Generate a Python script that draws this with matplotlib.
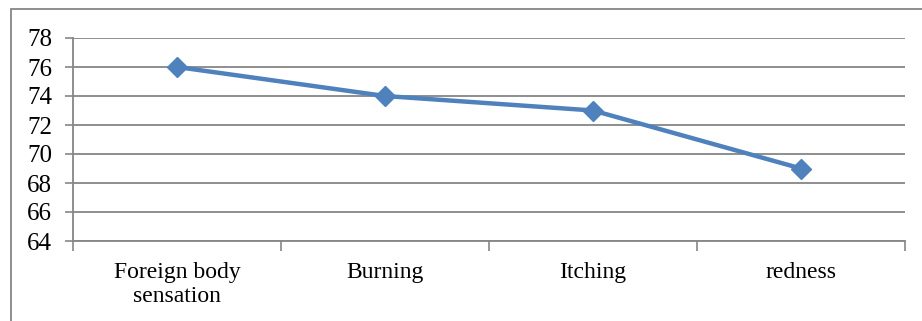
import matplotlib
matplotlib.use("Agg")
import matplotlib.pyplot as plt
from matplotlib.patches import Rectangle

categories = ["Foreign body\nsensation", "Burning", "Itching", "redness"]
values = [76, 74, 73, 69]
yticks = [64, 66, 68, 70, 72, 74, 76, 78]

plt.rcParams['font.family'] = ['Liberation Serif', 'DejaVu Serif']

fig = plt.figure(figsize=(9.22, 3.21), dpi=100)
W, H = 922, 321
ax = fig.add_axes([73 / W, 1 - 241 / H, (905 - 73) / W, (241 - 38) / H])

x = list(range(len(categories)))
ax.plot(x, values, color='#4F81BD', lw=3.2, marker='D', markersize=10,
        markerfacecolor='#4F81BD', markeredgecolor='#4F81BD', zorder=3)

ax.set_xlim(-0.5, len(categories) - 0.5)
ax.set_ylim(64, 78)
ax.set_yticks(yticks)
ax.set_yticklabels([str(t) for t in yticks], fontsize=18)
ax.set_xticks(x)
ax.set_xticklabels(categories, fontsize=17, linespacing=1.2)
ax.tick_params(axis='x', length=0, pad=15)
ax.set_xticks([i - 0.5 for i in range(len(categories) + 1)], minor=True)
ax.tick_params(axis='x', which='minor', length=7, width=1.2, color='#868686', direction='out')
ax.tick_params(axis='y', length=6, width=1.2, color='#868686', pad=9)
ax.yaxis.grid(True, color='#868686', lw=1.3)
ax.set_axisbelow(True)
for s in ['top', 'right']:
    ax.spines[s].set_visible(False)
for s in ['left', 'bottom']:
    ax.spines[s].set_color('#868686')
    ax.spines[s].set_linewidth(1.3)

fig.patches.append(Rectangle((11 / W, -0.1), 1.2, 1 - 9 / H + 0.1, transform=fig.transFigure,
                             fill=False, edgecolor='#868686', lw=1.3))

fig.savefig("out.png", dpi=100)
